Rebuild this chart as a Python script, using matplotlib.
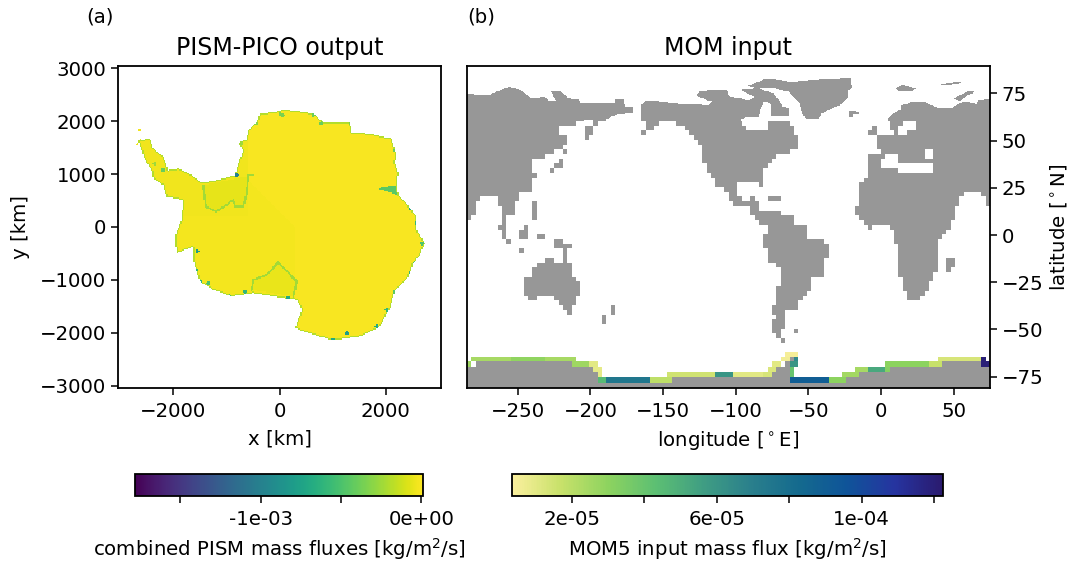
import numpy as np
import matplotlib
matplotlib.use('Agg')
from matplotlib import pyplot as plt
from matplotlib.colors import LinearSegmentedColormap, Normalize, ListedColormap
from matplotlib.cm import ScalarMappable
from matplotlib.path import Path

# --- panel (a): Antarctic outline and fluxes, km on the polar grid
ice_outline = [(-2659, 1626), (-2439, 1670), (-2376, 1482), (-2188, 1325), (-2094, 1074), (-1905, 1105),
               (-1654, 980), (-1466, 835), (-1121, 898), (-838, 980), (-776, 1199), (-682, 1450), (-776, 1589),
               (-619, 1651), (-587, 1827), (-430, 1984), (-368, 2141), (-54, 2172), (72, 2216), (323, 2191),
               (637, 2141), (825, 1984), (1076, 1984), (1327, 1984), (1358, 1796), (1704, 1764), (2112, 1670),
               (2193, 1388), (2175, 1199), (2237, 1011), (2206, 823), (2237, 603), (2394, 446), (2582, 195),
               (2582, -56), (2739, -307), (2645, -527), (2520, -684), (2426, -935), (2175, -1186), (2080, -1531),
               (1892, -1876), (1515, -2065), (1013, -2140), (637, -2033), (291, -1908), (417, -1562), (323, -1374),
               (72, -1343), (-493, -1249), (-901, -1311), (-1246, -1186), (-1497, -1029), (-1611, -684),
               (-1623, -370), (-1937, -495), (-1968, -182), (-1843, 132), (-1811, 509), (-2125, 571), (-2188, 790),
               (-2376, 915), (-2408, 1074), (-2533, 1262)]
west_shelf_line = [(-1435, 791), (-1385, 383), (-1184, 289), (-870, 509), (-838, 396), (-682, 396), (-619, 635),
                   (-587, 980), (-493, 980)]
ross_shelf_line = [(-525, -1186), (-493, -998), (-242, -903), (-22, -665), (323, -1029), (260, -1312)]
amery_patch = [(1829, 729), (2206, 791), (2206, 603), (2018, 685)]
coast_x = [-1548, -1560, -1497, -1341, -933, -650, 166, 2175, 2175, 2018, 1829, 1264, 1013, 2457, 2551, 2677, 2582,
           2457, 2175, 1327, 794, 637, 9, 60, -713, -430, -2188, -2345, -807]
coast_y = [-464, -809, -1029, -1060, -1311, -1217, -1343, -1230, -1330, -1563, -1876, -2002, -2128, -872, -684, -307,
           70, 352, 1450, 1953, 1953, 2110, 2141, 2110, 1576, 1953, 1074, 1199, 980]
coast_flux = [-8e-4, -6e-4, -6e-4, -5e-4, -5e-4, -6e-4, -7e-4, -4.5e-4, -4.5e-4, -6e-4, -7e-4, -8e-4, -7e-4, -6e-4,
              -5e-4, -5e-4, -6e-4, -7e-4, -4e-4, -3.5e-4, -4e-4, -4e-4, -3.5e-4, -3.5e-4, -2.5e-4, -3e-4, -4e-4,
              -2.5e-4, -1e-3]
peninsula_dots = [(-2630, 1830), (-2670, 1560), (-2620, 1640)]

# --- panel (b): land outlines, lon/lat
asia = [(-285, 75), (-271, 73.9), (-256, 78.5), (-248, 76.7), (-241, 72.7), (-231, 73.2), (-229, 71), (-224, 71.4),
        (-227, 75.8), (-221, 76.4), (-215, 72.3), (-208, 71.8), (-207.3, 70), (-182.8, 70), (-182.8, 71.8),
        (-177, 71.8), (-176.6, 68), (-171, 67.5), (-171, 64.4), (-180.5, 64), (-186, 62.6), (-189.7, 60.5),
        (-195.4, 59), (-198, 58.2), (-198, 60.8), (-204, 60.8), (-210.3, 59), (-216, 58.2), (-222.5, 56.4),
        (-221.8, 54.1), (-216, 51.7), (-216.5, 48.5), (-219.5, 46.4), (-219.5, 44.6), (-225, 44), (-231, 41.8),
        (-231, 40), (-240, 40), (-240, 31.7), (-237, 31.7), (-237, 29.4), (-240, 29.4), (-240, 23.8), (-246.3, 23.4),
        (-249.3, 20.3), (-251.6, 17.6), (-251.6, 9.3), (-258.5, 9.3), (-258.5, 2.6), (-264, 4.4), (-261.4, 5.3),
        (-261.4, 15), (-266.5, 20.3), (-276, 20.3), (-279, 17.6), (-279, 9.3), (-282, 9.3), (-282, 6.7), (-286, 6.7),
        (-286, 75)]
eurafrica = [(76, 72.3), (67, 71.4), (65.9, 69.7), (57.8, 70.5), (53.2, 69.7), (48.7, 67), (39.5, 67), (30.3, 70.5),
             (21.1, 70.5), (14.3, 68.8), (13.1, 66.1), (8.5, 64.7), (5.1, 61.7), (5.6, 56.4), (8.5, 56.4), (8.5, 52.9),
             (-0.6, 52), (-4, 54.7), (-4, 58.2), (-6.4, 58.2), (-6.4, 55.6), (-9.8, 55.2), (-9.8, 52.4), (-4, 52),
             (-3.6, 46.4), (-0.6, 45.9), (-0.6, 42.3), (-9.1, 42), (-9.1, 31.7), (-12.8, 29.1), (-15.1, 26.4),
             (-15.1, 15), (-18.3, 15), (-18.3, 11.8), (-15.1, 11.5), (-15.1, 8.8), (-9.8, 6.2), (-9.8, 3.5),
             (-6.4, 3.5), (-6.4, 4.8), (-0.6, 5.3), (5.6, 5.3), (5.6, 3.5), (8.5, 3.2), (8.5, -3.5), (11.5, -3.9),
             (11.5, -21.2), (14.3, -21.5), (14.3, -30), (17.3, -30), (17.3, -34.9), (26.2, -34.9), (26.2, -32.1),
             (29.2, -32.1), (29.2, -30), (32.1, -29.6), (32.1, -23.8), (35.4, -23.8), (35.4, -18.5), (38.3, -18.5),
             (38.3, -2.6), (41.8, -2.1), (41.8, 0.4), (44.5, 0.4), (44.5, 3.2), (46.8, 3.5), (46.8, 5.3), (49.8, 7),
             (53.2, 16.7), (59, 23.4), (68.1, 23.4), (71.1, 20.3), (71.6, 15), (76, 15)]
americas = [(-165.6, 68.8), (-161.5, 71.1), (-131.3, 69.3), (-118.6, 68.8), (-116.4, 70.5), (-127.8, 74),
            (-124.8, 75.8), (-117.5, 77), (-106, 76.7), (-104.9, 73.5), (-90.7, 71.4), (-87, 73.2), (-95.3, 76.2),
            (-95.3, 77), (-84.3, 77.6), (-74, 75), (-69.4, 70.5), (-68.2, 67.9), (-63.7, 67), (-63.7, 62.6),
            (-75.8, 62.6), (-76.3, 70), (-80.8, 70.5), (-83.1, 66.1), (-84.3, 62.3), (-93.4, 62.3), (-96.9, 60.8),
            (-93.4, 56.4), (-78.5, 55.6), (-78.5, 59.4), (-63.7, 59.4), (-60.2, 56.4), (-57.9, 52.9), (-57.9, 46.4),
            (-63.7, 46.4), (-63.7, 44.1), (-69.4, 43.2), (-72.8, 40.6), (-78.5, 35.3), (-81.5, 34.4), (-81.5, 26.4),
            (-84.3, 26.4), (-84.3, 29.1), (-95.7, 29.1), (-99.2, 26.4), (-99.2, 21.2), (-96.2, 21.2), (-96.2, 17.6),
            (-90.7, 17.6), (-90, 21.2), (-87, 21.2), (-84.3, 16.4), (-84.3, 11.8), (-69.4, 11.8), (-69.4, 9.7),
            (-60.2, 9.7), (-60.2, 6.5), (-51.7, 4.4), (-51.5, 0.4), (-48.8, -1.4), (-39.6, -2.6), (-36.6, -5.6),
            (-36.6, -12.3), (-39.6, -12.3), (-39.6, -21.2), (-42.6, -21.2), (-48.8, -24.3), (-48.8, -29.6),
            (-51.5, -29.6), (-51.5, -32.1), (-54.5, -32.1), (-54.5, -34.9), (-57.9, -34.9), (-57.9, -39.2),
            (-63.7, -39.2), (-66.4, -41.4), (-66.4, -50.3), (-69.4, -50.3), (-69.4, -54.7), (-75.6, -52.6),
            (-75.6, -45.5), (-72.4, -45), (-72.4, -41.4), (-75.6, -41.4), (-75.6, -37.9), (-72.4, -37), (-72.4, -27.3),
            (-69.4, -26.8), (-69.4, -18.5), (-72.8, -18), (-72.8, -15.5), (-78.5, -12.3), (-78.5, -7.4), (-81.5, -7.4),
            (-81.5, 0), (-78.5, 0.4), (-78.5, 5.3), (-84.3, 7), (-87.7, 9.7), (-90, 15), (-99.2, 15), (-105.4, 18.5),
            (-107.2, 23.8), (-114, 27), (-114.8, 29.1), (-117.5, 31.7), (-120.3, 37.6), (-123.2, 37.9), (-123.9, 48.5),
            (-129.4, 50.6), (-130.1, 53.4), (-135.4, 55.6), (-135.8, 58.2), (-142.7, 59.4), (-150.7, 59.4),
            (-156.5, 57.8), (-157.6, 56.4), (-162.2, 55.6), (-162.2, 60), (-165.6, 60)]
greenland = [(-92.3, 78.8), (-78.5, 82.9), (-62.5, 81.1), (-21.3, 83.4), (-19.7, 77.6), (-22.4, 76.7), (-22.4, 73.2),
             (-24.7, 71.4), (-28.1, 68.8), (-33.9, 67), (-40.7, 64.4), (-43, 61.2), (-51, 61.2), (-54.5, 64.4),
             (-55.6, 69.7), (-63.7, 75.8), (-72.8, 77.6), (-79.7, 78.1), (-86.6, 78.1)]
oceania = [(-237.1, 0.9), (-231, 0.9), (-231, -1.4), (-225.2, -1.4), (-225.2, -2.6), (-219.5, -2.6), (-219.5, -3.9),
           (-216, -3.9), (-216, -5.6), (-213.3, -5.6), (-213.3, -7.4), (-216, -7.4), (-216, -15), (-213.3, -15),
           (-213.3, -21.2), (-210.3, -21.2), (-210.3, -23.8), (-207.3, -23.8), (-207.3, -32.6), (-210.3, -32.6),
           (-210.3, -37.6), (-213.3, -37.6), (-213.3, -43.2), (-216, -43.2), (-216, -39.7), (-219.5, -39.7),
           (-219.5, -37.6), (-222.5, -37.6), (-222.5, -34.9), (-225.2, -34.9), (-225.2, -32.3), (-237.1, -32.3),
           (-237.1, -34.9), (-243.1, -34.9), (-243.1, -32.3), (-246.3, -32.3), (-246.3, -21.5), (-240.1, -21.5),
           (-240.1, -18), (-237.1, -18), (-237.1, -15.5), (-231, -15.5), (-231, -12.3), (-225.2, -12.3),
           (-225.2, -15), (-219.5, -15), (-219.5, -7.4), (-221.8, -7.4), (-225.2, -5.6), (-225.2, -3.5), (-231, -2.6),
           (-237.1, -2.6)]
sumatra = [(-264.2, 4.8), (-258.5, 5.3), (-258.5, -0.9), (-255, -0.9), (-255, -3.5), (-249.3, -3.5), (-249.3, -5.6),
           (-258.5, -5.6), (-258.5, -1.4), (-261.4, -1.4), (-261.4, 2.1), (-264.2, 2.1)]
borneo = [(-249.3, 1.8), (-246.3, 1.8), (-246.3, 4.8), (-243.1, 4.8), (-243.1, -1.4), (-249.3, -1.4)]
small_land = [[(-249.3, -7.4), (-246.3, -7.4), (-246.3, -9.7), (-249.3, -9.7)],
              [(-186.3, -37.6), (-183.3, -37.6), (-183.3, -41.4), (-186.3, -41.4)],
              [(-189.2, -41.4), (-186.3, -41.4), (-186.3, -43.2), (-189.2, -43.2)],
              [(-192, -43.2), (-189.2, -43.2), (-189.2, -46.7), (-192, -46.7)],
              [(-204, 57.3), (-201, 57.3), (-201, 50.3), (-204, 50.3)],
              [(-201, 58.2), (-198.2, 58.2), (-198.2, 53.8), (-201, 53.8)],
              [(-219.5, 44.6), (-216, 44.6), (-216, 42.3), (-219.5, 42.3)],
              [(-222.5, 40), (-219.5, 40), (-219.5, 35.3), (-222.5, 35.3)],
              [(-225.2, 37.6), (-222.5, 37.6), (-222.5, 35.3), (-225.2, 35.3)],
              [(-228, 34.7), (-225.2, 34.7), (-225.2, 32.3), (-228, 32.3)],
              [(-240, 17.6), (-237.1, 17.6), (-237.1, 6.7), (-240, 6.7)],
              [(-246.3, 4.9), (-243.1, 4.9), (-243.1, 2.6), (-246.3, 2.6)],
              [(-165.6, 55.2), (-162, 55.2), (-162, 53.8), (-165.6, 53.8)],
              [(-78.5, 20.6), (-69.4, 20.6), (-69.4, 17.6), (-78.5, 17.6)],
              [(-22, 65.8), (-15.5, 65.3), (-15.5, 64), (-19, 64), (-19, 62.3), (-22, 62.3)],
              [(-60.5, -50), (-57.5, -50), (-57.5, -51.5), (-60.5, -51.5)],
              [(-69.4, -54.7), (-66.4, -54.7), (-66.4, -56.2), (-69.4, -56.2)],
              [(46, -12.3), (49.8, -12.3), (49.8, -18), (46, -18.5), (46, -23.8), (44, -23.8), (44, -15.5)],
              [(9.7, 77.6), (14.3, 79.4), (24.6, 77.6), (20, 75.8), (12, 76.4)],
              [(40.6, 79.9), (55.5, 81.1), (54.4, 80.3), (41.8, 79.2)],
              [(49.8, 72.3), (59, 75.8), (64.7, 76.4), (63.6, 75.3), (57.8, 73.2), (54.4, 71)]]
inland_seas = [[(-0.6, 39.7), (2.8, 41.8), (10.8, 41.8), (14.3, 37.6), (34.9, 37), (34.9, 32.3), (11.5, 32.3),
                (10.8, 34.7), (-0.6, 34.7)],
               [(29.2, 44.4), (34.9, 44.4), (34.9, 40), (29.2, 40)],
               [(10.8, 53.4), (10.8, 56.4), (14.7, 59.1), (23.4, 59.4), (23, 56.4), (18.4, 53.8)]]
antarctica = [(-286, -69.7), (-279, -69.7), (-279, -66.7), (-213, -66.7), (-213, -69.7), (-198, -69.7), (-198, -72.3),
              (-195, -72.3), (-195, -78.1), (-144, -78.1), (-144, -75.3), (-75, -75.3), (-75, -72.3), (-72, -72.3),
              (-72, -69.7), (-66, -69.7), (-66, -66.7), (-63, -66.7), (-63, -64.4), (-60, -64.4), (-60, -66.7),
              (-63, -66.7), (-63, -78.1), (-24, -78.1), (-24, -75.3), (-15, -75.3), (-15, -72.3), (6, -72.3),
              (6, -69.7), (42, -69.7), (42, -66.7), (76, -66.7), (76, -82), (-286, -82)]

# MOM5 coastal flux cells: band south lat, lon start, lon end, flux
flux_south = [-69.7, -66.7, -66.7, -66.7, -69.7, -69.7, -72.3, -75.3, -78.1, -78.1, -78.1, -75.3, -75.3, -75.3, -75.3,
              -72.3, -69.7, -66.7, -64.4, -66.7, -69.7, -75.3, -72.3, -78.1, -78.1, -75.3, -72.3, -72.3, -72.3,
              -69.7, -69.7, -66.7, -66.7, -69.7]
flux_lon0 = [-285, -282, -255, -231, -213, -201, -198, -195, -195, -189, -159, -147, -114, -102, -81, -78, -75, -69,
             -66, -60, -63, -63, -63, -63, -36, -27, -18, -9, 3, 3, 33, 39, 69, 69]
flux_lon1 = [-282, -255, -231, -210, -201, -195, -192, -192, -189, -159, -144, -114, -102, -81, -75, -72, -69, -63,
             -57, -57, -57, -60, -60, -36, -24, -15, -9, 3, 6, 33, 42, 69, 72, 75]
flux_val = [2.6e-5, 2.4e-5, 2.9e-5, 2.4e-5, 2.6e-5, 1e-5, 9e-6, 9e-6, 4.5e-5, 7.5e-5, 1.9e-5, 1.5e-5, 6e-5, 1e-5,
            1.3e-5, 1.2e-5, 1e-5, 6e-6, 5e-6, 6.5e-5, 6e-5, 4e-5, 4e-5, 9e-5, 3e-5, 2.5e-5, 2.4e-5, 5.2e-5, 3.2e-5,
            3e-5, 1.7e-5, 1.3e-5, 1.2e-4, 1.2e-4]

# colorbar ranges and ticks
pism_range = (-1.783e-3, 1e-5)
pism_ticks = [-1.5e-3, -1e-3, -5e-4, 0]
pism_labels = ['', '-1e-03', '', '0e+00']
mom_range = (3.4e-6, 1.225e-4)
mom_ticks = [2e-5, 4e-5, 6e-5, 8e-5, 1e-4, 1.2e-4]
mom_labels = ['2e-05', '', '6e-05', '', '1e-04', '']
haline_r = LinearSegmentedColormap.from_list('haline_r', ['#fbf09e', '#c8e16a', '#8dd35f', '#5cbf73', '#3f9d83',
                                                          '#2a7f8c', '#146a8e', '#0f5499', '#2634a0', '#2a1a6e'])

W, H = 1070, 561
plt.rcParams['font.size'] = 14.2
plt.rcParams['axes.linewidth'] = 1.3
plt.rcParams['xtick.major.size'] = 5
plt.rcParams['ytick.major.size'] = 5
plt.rcParams['xtick.major.width'] = 1.1
plt.rcParams['ytick.major.width'] = 1.1
plt.rcParams['xtick.major.pad'] = 5


def px_axes(fig, x0, y0, x1, y1):
    return fig.add_axes([x0 / W, 1 - y1 / H, (x1 - x0) / W, (y1 - y0) / H])


def inside(poly, xx, yy):
    pts = np.column_stack([xx.ravel(), yy.ravel()])
    return Path(poly).contains_points(pts).reshape(xx.shape)


def land_mask(lon_e, lat_e):
    lon_c, lat_c = np.meshgrid((lon_e[:-1] + lon_e[1:]) / 2, (lat_e[:-1] + lat_e[1:]) / 2)
    mask = np.zeros(lon_c.shape, dtype=bool)
    for poly in [asia, eurafrica, americas, greenland, oceania, sumatra, borneo, antarctica] + small_land:
        mask |= inside(poly, lon_c, lat_c)
    for poly in inland_seas:
        mask &= ~inside(poly, lon_c, lat_c)
    return np.ma.masked_where(~mask, mask.astype(float))


fig = plt.figure(figsize=(W / 100, H / 100), dpi=100)

# (a) PISM-PICO
ax1 = px_axes(fig, 118, 66, 441, 388)
xe = np.arange(-3040, 3041, 24.0)
ye = np.arange(-3040, 3041, 24.0)
xc, yc = np.meshgrid((xe[:-1] + xe[1:]) / 2, (ye[:-1] + ye[1:]) / 2)
ice = inside(ice_outline, xc, yc)
field = np.full(xc.shape, -1.0e-5)
field[(xc < 300) & (xc + yc < 300)] = -2.0e-5
field[(xc < -600) & (yc > 200)] = -3.0e-5
# floating shelves sit a little lower, with a brighter line along the grounding edge
field[inside(west_shelf_line, xc, yc)] = -6e-5
field[inside(ross_shelf_line, xc, yc)] = -5e-5
for line, val in [(west_shelf_line, -2.4e-4), (ross_shelf_line, -2.4e-4)]:
    arr = np.array(line, dtype=float)
    for (x0, y0), (x1, y1) in zip(arr[:-1], arr[1:]):
        for t in np.linspace(0, 1, 40):
            field[(xc - (x0 + t * (x1 - x0))) ** 2 + (yc - (y0 + t * (y1 - y0))) ** 2 < 20 ** 2] = val
field[inside(amery_patch, xc, yc)] = -4.5e-4
# ragged rim of lower values along the ice front
rim = ice & ~(np.roll(ice, 1, 0) & np.roll(ice, -1, 0) & np.roll(ice, 1, 1) & np.roll(ice, -1, 1))
field[rim] = -2e-4
for cx, cy, cv in zip(coast_x, coast_y, coast_flux):
    field[(xc - cx) ** 2 + (yc - cy) ** 2 < 36 ** 2] = cv
for dx, dy in peninsula_dots:
    ice |= (xc - dx) ** 2 + (yc - dy) ** 2 < 25 ** 2
pism_norm = Normalize(*pism_range)
ax1.pcolormesh(xe, ye, np.ma.masked_where(~ice, field), cmap='viridis', norm=pism_norm, rasterized=True)
ax1.set_xlim(-3040, 3040)
ax1.set_ylim(-3040, 3040)
ax1.set_xticks([-2000, 0, 2000])
ax1.set_yticks([-3000, -2000, -1000, 0, 1000, 2000, 3000])
ax1.set_xlabel('x [km]', labelpad=6)
ax1.set_ylabel('y [km]', labelpad=7)
ax1.set_title('PISM-PICO output', fontsize=17, pad=8)
fig.text(86 / W, 1 - 17 / H, '(a)', va='center')

# (b) MOM input
ax2 = px_axes(fig, 467, 66, 990, 388)
land_cmap = ListedColormap(['#979797'])
lon_coarse = np.arange(-285, 76, 3.0)
lat_coarse = np.r_[[-81, -78.1, -75.3, -72.3, -69.7, -66.7, -64.4, -62.1], np.arange(-59.6, 62, 2.5)]
lon_fine = np.arange(-285, 75.1, 0.5)
lat_fine = np.arange(lat_coarse[-1], 90.1, 0.4)
ax2.pcolormesh(lon_coarse, lat_coarse, land_mask(lon_coarse, lat_coarse), cmap=land_cmap, rasterized=True)
ax2.pcolormesh(lon_fine, lat_fine, land_mask(lon_fine, lat_fine), cmap=land_cmap, rasterized=True)
flux = np.full((lat_coarse.size - 1, lon_coarse.size - 1), np.nan)
lon_mid = (lon_coarse[:-1] + lon_coarse[1:]) / 2
for s, l0, l1, v in zip(flux_south, flux_lon0, flux_lon1, flux_val):
    row = np.argmin(np.abs(lat_coarse[:-1] - s))
    flux[row, (lon_mid > l0) & (lon_mid < l1)] = v
mom_norm = Normalize(*mom_range)
ax2.pcolormesh(lon_coarse, lat_coarse, np.ma.masked_invalid(flux), cmap=haline_r, norm=mom_norm, rasterized=True)
ax2.set_xlim(-285, 75)
ax2.set_ylim(-81, 89.5)
ax2.set_xticks([-250, -200, -150, -100, -50, 0, 50])
ax2.set_yticks([-75, -50, -25, 0, 25, 50, 75])
ax2.yaxis.tick_right()
ax2.yaxis.set_label_position('right')
ax2.set_xlabel(r'longitude [$^\circ$E]', labelpad=6)
ax2.set_ylabel(r'latitude [$^\circ$N]', labelpad=3)
ax2.set_title('MOM input', fontsize=17, pad=8)
fig.text(467 / W, 1 - 17 / H, '(b)', va='center')

# colorbars
cax1 = px_axes(fig, 135, 474, 423, 496)
cb1 = fig.colorbar(ScalarMappable(pism_norm, 'viridis'), cax=cax1, orientation='horizontal', ticks=pism_ticks)
cb1.set_ticklabels(pism_labels)
cb1.set_label('combined PISM mass fluxes [kg/m$^2$/s]', labelpad=5)
cax2 = px_axes(fig, 512, 474, 943, 496)
cb2 = fig.colorbar(ScalarMappable(mom_norm, haline_r), cax=cax2, orientation='horizontal', ticks=mom_ticks)
cb2.set_ticklabels(mom_labels)
cb2.set_label('MOM5 input mass flux [kg/m$^2$/s]', labelpad=5)

fig.savefig('out.png', dpi=100)
